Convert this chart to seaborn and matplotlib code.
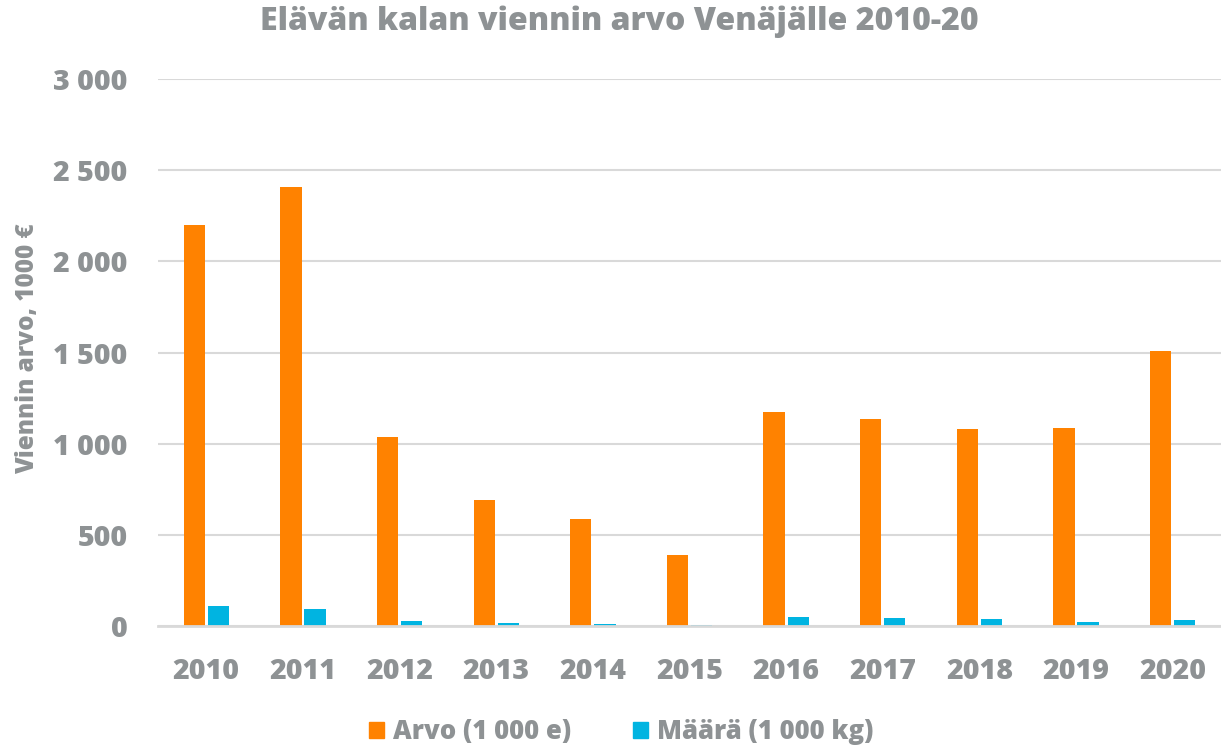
import pandas as pd
import matplotlib.pyplot as plt
import matplotlib.ticker as mticker
import seaborn as sns

years = ['2010', '2011', '2012', '2013', '2014', '2015', '2016', '2017', '2018', '2019', '2020']
arvo = [2198, 2407, 1036, 691, 587, 389, 1173, 1135, 1080, 1086, 1508]
maara = [110, 91, 29, 18, 12, 4, 49, 45, 38, 22, 35]
series = ['Arvo (1 000 e)', 'Määrä (1 000 kg)']

df = pd.DataFrame({
    'Vuosi': years * 2,
    'Arvo': arvo + maara,
    'Sarja': [series[0]] * len(years) + [series[1]] * len(years),
})

sns.set_style('white')
plt.rcParams['font.family'] = ['Open Sans', 'DejaVu Sans']
plt.rcParams['font.weight'] = 800
grey = '#8E9294'
wt = 800

fig = plt.figure(figsize=(12.21, 7.47), dpi=100)
ax = fig.add_axes([158 / 1221, 121 / 747, 1 - 158 / 1221, 547 / 747])

sns.barplot(data=df, x='Vuosi', y='Arvo', hue='Sarja',
            palette=['#FF8200', '#00B4E1'], saturation=1, width=0.5, gap=0.12,
            linewidth=0, ax=ax, legend=False)

ax.set_xlim(-0.5, 10.5)
ax.set_ylim(0, 3000)
ax.set_yticks(range(0, 3001, 500))
ax.yaxis.set_major_formatter(mticker.FuncFormatter(lambda v, p: f'{v:,.0f}'.replace(',', ' ')))
ax.grid(axis='y', color='#D9D9D9', linewidth=1.5)
ax.set_axisbelow(True)
for s in ['top', 'right', 'left']:
    ax.spines[s].set_visible(False)
ax.spines['bottom'].set_color('#D9D9D9')
ax.spines['bottom'].set_linewidth(2)
ax.tick_params(axis='both', length=0, labelsize=20.5, labelcolor=grey)
ax.tick_params(axis='y', pad=22)
ax.tick_params(axis='x', pad=22)
for lbl in ax.get_xticklabels() + ax.get_yticklabels():
    lbl.set_fontweight(wt)
ax.set_xlabel('')
ax.set_ylabel('')

fig.text(28 / 1221, 1 - 349 / 747, 'Viennin arvo, 1000 €', rotation=90,
         ha='center', va='center', fontsize=17.5, fontweight=wt, color=grey)
fig.text(619 / 1221, 1 - 22 / 747, 'Elävän kalan viennin arvo Venäjälle 2010-20',
         ha='center', va='center', fontsize=23, fontweight=wt, color=grey)

handles = [plt.Rectangle((0, 0), 1, 1, color=c) for c in ['#FF8200', '#00B4E1']]
leg = fig.legend(handles, series, loc='center', bbox_to_anchor=(621 / 1221, 1 - 732 / 747),
                 ncol=2, frameon=False, fontsize=18.5, handlelength=0.6, handleheight=0.6,
                 handletextpad=0.35, columnspacing=2.4)
for t in leg.get_texts():
    t.set_color(grey)
    t.set_fontweight(wt)

fig.savefig('out.png', dpi=100)
